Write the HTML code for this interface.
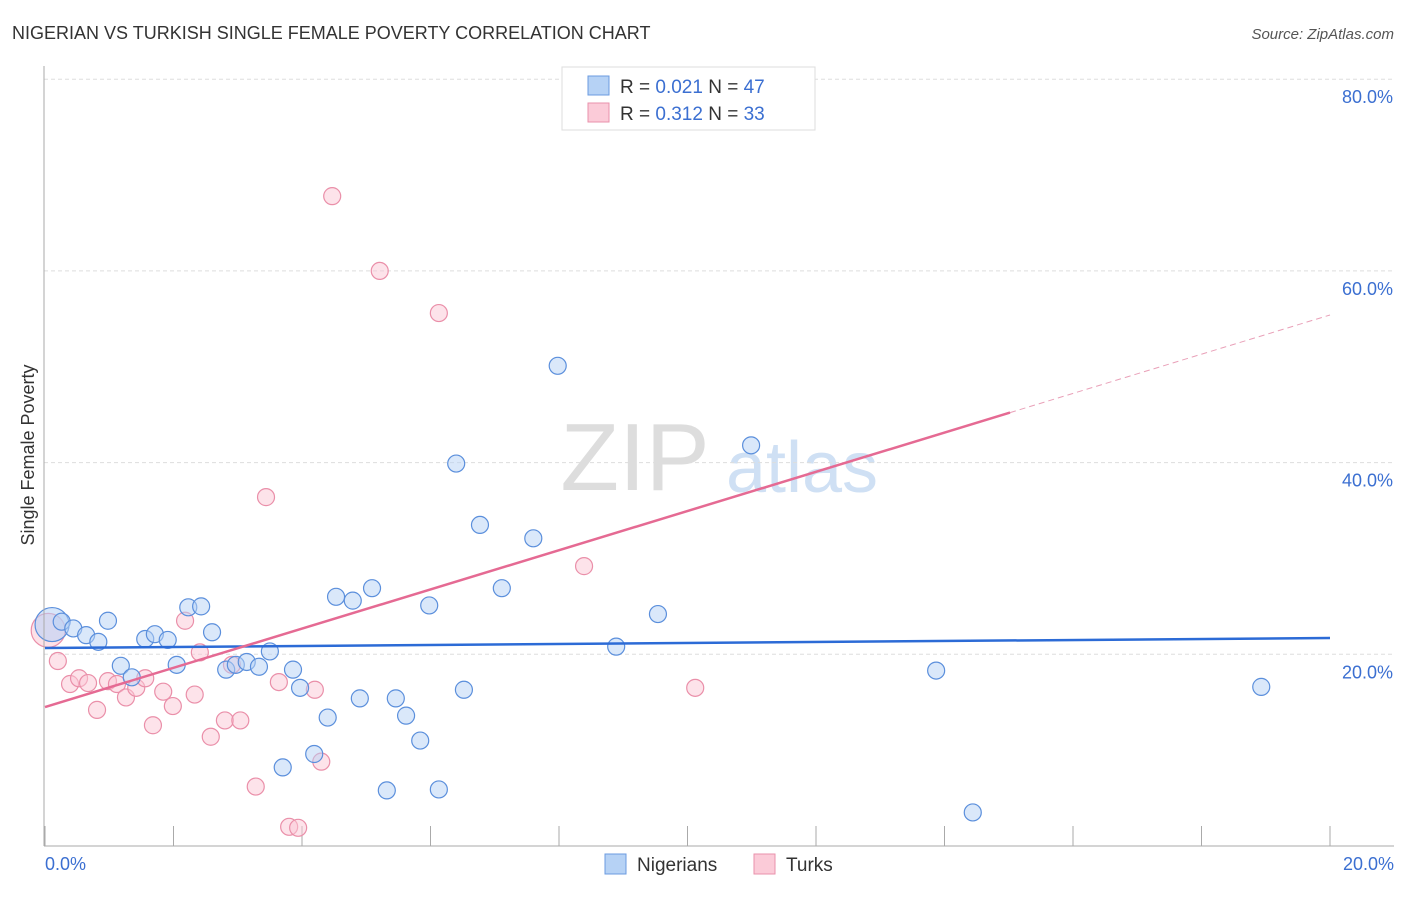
<!DOCTYPE html>
<html><head><meta charset="utf-8"><style>
body{margin:0;background:#fff;font-family:"Liberation Sans",sans-serif}
svg text{font-family:"Liberation Sans",sans-serif}
</style></head><body>
<svg id="c" width="1406" height="892">
<text x="12" y="39" font-size="18" fill="#333">NIGERIAN VS TURKISH SINGLE FEMALE POVERTY CORRELATION CHART</text>
<text x="1394" y="39" font-size="15" fill="#555" font-style="italic" text-anchor="end">Source: ZipAtlas.com</text>
<text x="635" y="490" font-size="96" fill="#ddd" font-family="Liberation Serif" text-anchor="middle">ZIP</text>
<text x="802" y="492" font-size="72" fill="#cfe0f4" text-anchor="middle">atlas</text>
<text transform="translate(34,455) rotate(-90)" font-size="18" fill="#333" text-anchor="middle">Single Female Poverty</text>
<g id="grid"></g><g id="pts"></g><g id="lines"></g>
<line x1="44" y1="66" x2="44" y2="846" stroke="#aaa"/>
<line x1="44" y1="846" x2="1394" y2="846" stroke="#aaa"/>
<text x="45" y="870" font-size="18" fill="#3b6fd1">0.0%</text>
<text x="1394" y="870" font-size="18" fill="#3b6fd1" text-anchor="end">20.0%</text>
<g>
<rect x="562" y="67" width="253" height="63" fill="#fff" stroke="#ddd"/>
<rect x="588" y="76" width="21" height="19" fill="#b6d2f5" stroke="#6b9be0"/>
<rect x="588" y="103" width="21" height="19" fill="#fbcbd8" stroke="#ea92ab"/>
<text x="620" y="93" font-size="19" fill="#333">R = <tspan fill="#3b6fd1">0.021</tspan>   N = <tspan fill="#3b6fd1">47</tspan></text>
<text x="620" y="120" font-size="19" fill="#333">R = <tspan fill="#3b6fd1">0.312</tspan>   N = <tspan fill="#3b6fd1">33</tspan></text>
</g>
<g>
<rect x="605" y="854" width="21" height="20" fill="#b6d2f5" stroke="#6b9be0"/>
<text x="637" y="871" font-size="19" fill="#333">Nigerians</text>
<rect x="754" y="854" width="21" height="20" fill="#fbcbd8" stroke="#ea92ab"/>
<text x="786" y="871" font-size="19" fill="#333">Turks</text>
</g>
</svg>
<script>
const yTicks=[20,40,60,80];
const yTickLabels=["20.0%","40.0%","60.0%","80.0%"];
const xTicks=[0,2,4,6,8,10,12,14,16,18,20];
const blueX=[0.11,0.26,0.44,0.64,0.83,0.98,1.18,1.35,1.56,1.71,1.91,2.05,2.23,2.43,2.60,2.82,2.97,3.14,3.33,3.50,3.86,3.97,3.70,4.19,4.40,4.53,4.79,4.90,5.09,5.32,5.46,5.62,5.84,5.98,6.13,6.40,6.52,6.77,7.11,7.60,7.98,8.89,9.54,10.99,13.87,14.44,18.93];
const blueY=[23.1,23.4,22.7,22.0,21.3,23.5,18.8,17.6,21.6,22.1,21.5,18.9,24.9,25.0,22.3,18.4,18.9,19.2,18.7,20.3,18.4,16.5,8.2,9.6,13.4,26.0,25.6,15.4,26.9,5.8,15.4,13.6,11.0,25.1,5.9,39.9,16.3,33.5,26.9,32.1,50.1,20.8,24.2,41.8,18.3,3.5,16.6];
const pinkX=[0.05,0.2,0.39,0.53,0.67,0.81,0.98,1.12,1.26,1.42,1.56,1.68,1.84,1.99,2.18,2.33,2.41,2.58,2.80,3.04,3.28,3.44,3.64,3.80,3.94,4.20,4.30,4.47,5.21,6.13,8.39,10.12,2.91];
const pinkY=[22.5,19.3,16.9,17.5,17.0,14.2,17.2,16.9,15.5,16.5,17.5,12.6,16.1,14.6,23.5,15.8,20.2,11.4,13.1,13.1,6.2,36.4,17.1,2.0,1.9,16.3,8.8,67.8,60.0,55.6,29.2,16.5,18.9];
const blueTrend=[20.66,21.7];
const pinkTrend=[14.5,55.4];
const pinkSolidEnd=15.02;
const X=v=>45+v*64.25, Y=v=>846-v*9.585;
const NS="http://www.w3.org/2000/svg";
function mk(tag,attrs,parent){const e=document.createElementNS(NS,tag);for(const k in attrs)e.setAttribute(k,attrs[k]);parent.appendChild(e);return e;}
const grid=document.getElementById('grid'),pts=document.getElementById('pts'),lines=document.getElementById('lines');
yTicks.forEach((t,i)=>{
 const l=mk('line',{x1:44,x2:1394,y1:Y(t),y2:Y(t),stroke:'#ddd','stroke-dasharray':'4,3'},grid);
 
 
 const tx=mk('text',{x:1393,y:Y(t)+24,'font-size':18,fill:'#3b6fd1','text-anchor':'end'},grid);
 tx.textContent=yTickLabels[i];
 
 
});
xTicks.forEach(t=>{
 const l=mk('line',{x1:X(t),x2:X(t),y1:826,y2:846,stroke:'#aaa'},grid);
 
 
});
function dots(xs,ys,fill,stroke,name){
 xs.forEach((x,i)=>{
  const c=mk('circle',{cx:X(x),cy:Y(ys[i]),r:i==0?17:8.5,fill:fill,'fill-opacity':i==0?0.55:0.5,stroke:stroke,'stroke-width':1.2},pts);
  
  
 });
}
dots(pinkX,pinkY,'#fbc8d6','#ea8fa9','turks-point');
dots(blueX,blueY,'#b6d2f5','#5b8fdc','nigerians-point');
let l1=mk('line',{x1:X(0),y1:Y(blueTrend[0]),x2:X(20),y2:Y(blueTrend[1]),stroke:'#2c6bd6','stroke-width':2.5},lines);


const py=x=>pinkTrend[0]+(pinkTrend[1]-pinkTrend[0])*x/20;
let l2=mk('line',{x1:X(0),y1:Y(py(0)),x2:X(pinkSolidEnd),y2:Y(py(pinkSolidEnd)),stroke:'#e56a93','stroke-width':2.5},lines);


let l3=mk('line',{x1:X(pinkSolidEnd),y1:Y(py(pinkSolidEnd)),x2:X(20),y2:Y(py(20)),stroke:'#e9a0b8','stroke-width':1,'stroke-dasharray':'6,4'},lines);


</script>
</body></html>
